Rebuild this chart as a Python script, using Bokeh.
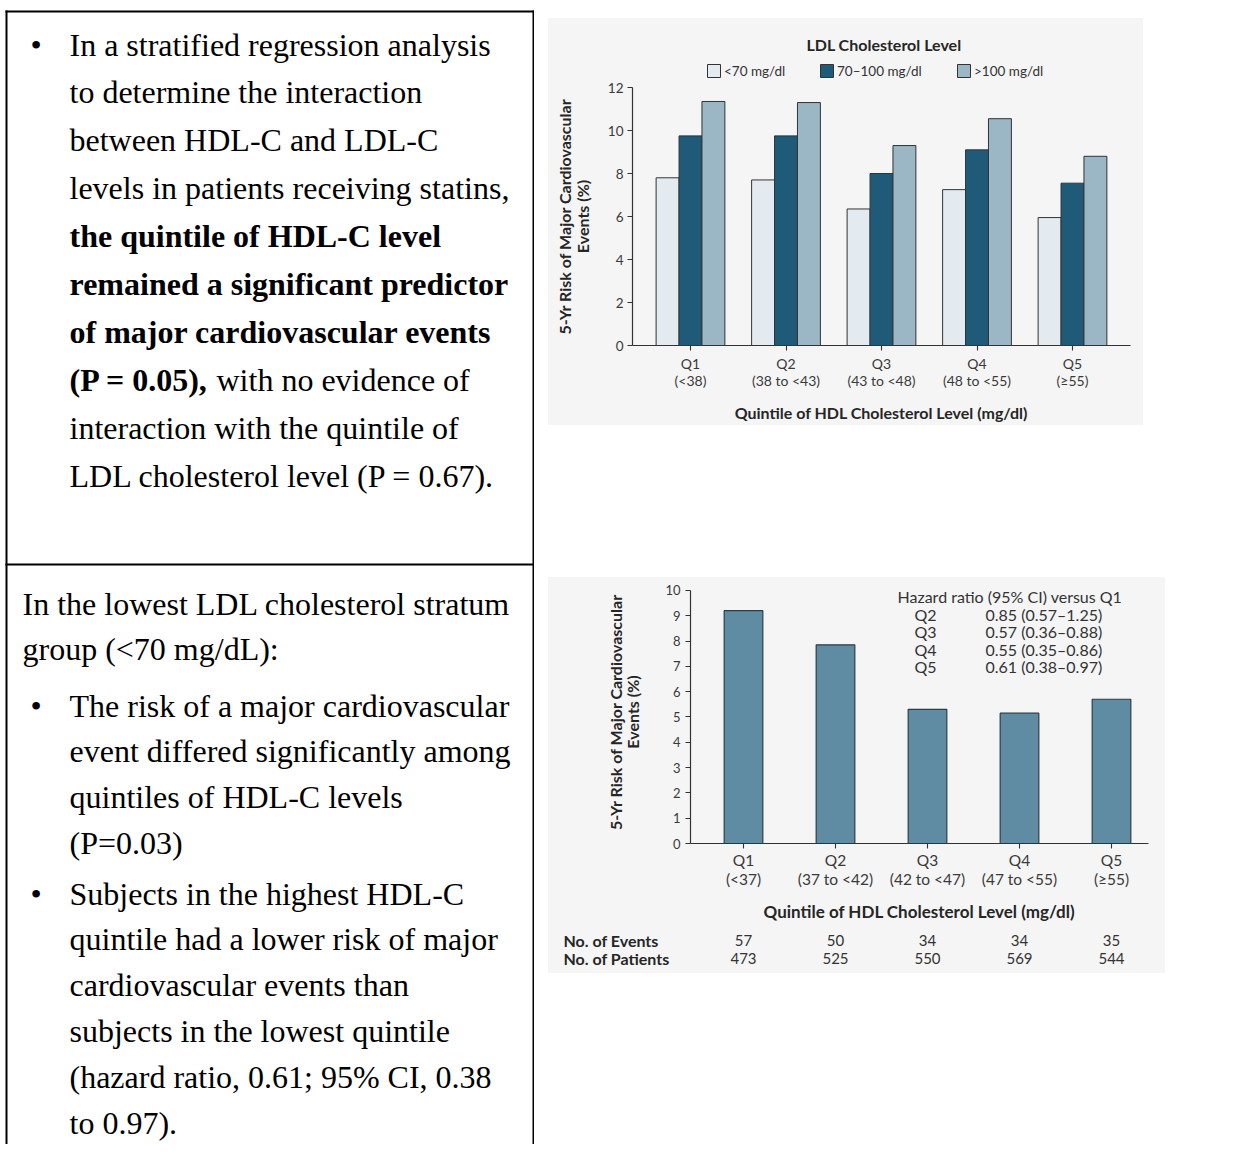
from bokeh.plotting import figure
from bokeh.models import Range1d, FixedTicker, Spacer, ColumnDataSource
from bokeh.layouts import row, column
from bokeh.transform import dodge
from bokeh.embed import file_html
from bokeh.resources import INLINE
from bokeh.core.properties import value

# ---------------- data ----------------
quintiles_a = ["Q1", "Q2", "Q3", "Q4", "Q5"]
hdl_ranges_a = ["(<38)", "(38 to <43)", "(43 to <48)", "(48 to <55)", "(≥55)"]
ldl_levels = ["<70 mg/dl", "70–100 mg/dl", ">100 mg/dl"]
risk_ldl_under70 = [7.8, 7.7, 6.35, 7.25, 5.95]
risk_ldl_70to100 = [9.75, 9.75, 8.0, 9.1, 7.55]
risk_ldl_over100 = [11.35, 11.3, 9.3, 10.55, 8.8]
yticks_a = [0, 2, 4, 6, 8, 10, 12]

quintiles_b = ["Q1", "Q2", "Q3", "Q4", "Q5"]
hdl_ranges_b = ["(<37)", "(37 to <42)", "(42 to <47)", "(47 to <55)", "(≥55)"]
risk_lowest_ldl = [9.2, 7.85, 5.3, 5.15, 5.7]
n_events = [57, 50, 34, 34, 35]
n_patients = [473, 525, 550, 569, 544]
hr_quintiles = ["Q2", "Q3", "Q4", "Q5"]
hr_values = ["0.85 (0.57–1.25)", "0.57 (0.36–0.88)", "0.55 (0.35–0.86)", "0.61 (0.38–0.97)"]
yticks_b = [0, 1, 2, 3, 4, 5, 6, 7, 8, 9, 10]

top_cell_lines = [
    "In a stratified regression analysis",
    "to determine the interaction",
    "between HDL-C and LDL-C",
    "levels in patients receiving statins,",
    "the quintile of HDL-C level",
    "remained a significant predictor",
    "of major cardiovascular events",
    "(P = 0.05),",
    "interaction with the quintile of",
    "LDL cholesterol level (P = 0.67).",
]
top_cell_bold = [False, False, False, False, True, True, True, True, False, False]
top_cell_tail = " with no evidence of"

bottom_intro = ["In the lowest LDL cholesterol stratum", "group (<70 mg/dL):"]
bottom_bullet1 = ["The risk of a major cardiovascular", "event differed significantly among",
                  "quintiles of HDL-C levels", "(P=0.03)"]
bottom_bullet2 = ["Subjects in the highest HDL-C", "quintile had a lower risk of major",
                  "cardiovascular events than", "subjects in the lowest quintile",
                  "(hazard ratio, 0.61; 95% CI, 0.38", "to 0.97)."]

# ---------------- styles ----------------
SERIF = "Liberation Serif"
SANS = "Lato"
PANEL = "#f5f5f5"
INK = "#262626"
GREY = "#3a3a3a"
LINE_STEP = 47.9
TEXT_SIZE = "32px"
TOTAL_H = 1144
LEFT_W = 534
RIGHT_W = 1219 - LEFT_W


def serif_text(fig, xs, ys, texts, bold=False):
    fig.text(x=xs, y=ys, text=texts, text_font=value(SERIF), text_font_size=TEXT_SIZE,
             text_font_style="bold" if bold else "normal", text_baseline="middle",
             text_align="left", text_color="black")


def blank_fig(w, h, xr, yr, bg):
    return figure(width=w, height=h, x_range=xr, y_range=yr, x_axis_type=None, y_axis_type=None,
                  min_border=0, toolbar_location=None, output_backend="svg",
                  outline_line_color=None, background_fill_color=bg, border_fill_color=bg)


# ---------------- left text column ----------------
L = blank_fig(LEFT_W, TOTAL_H, Range1d(0, LEFT_W), Range1d(TOTAL_H, 0), "white")
L.quad(left=[5, 5, 532, 5], right=[LEFT_W, 7, LEFT_W, LEFT_W], top=[10, 10, 10, 563],
       bottom=[12, TOTAL_H, TOTAL_H, 565], fill_color="black", line_color=None)

y0 = 44
ys_top = [y0 + i * LINE_STEP for i in range(len(top_cell_lines))]
for txt, b, yy in zip(top_cell_lines, top_cell_bold, ys_top):
    serif_text(L, [69], [yy], [txt], bold=b)
serif_text(L, [216], [ys_top[top_cell_lines.index("(P = 0.05),")]], [top_cell_tail])
serif_text(L, [30], [ys_top[0]], ["•"])

# bottom cell (slightly compressed so the last line stays inside the page)
step_b = 45.8
y1 = 603
ys_intro = [y1 + i * step_b for i in range(len(bottom_intro))]
serif_text(L, [22] * len(ys_intro), ys_intro, bottom_intro)
y2 = 705
ys_b1 = [y2 + i * step_b for i in range(len(bottom_bullet1))]
serif_text(L, [69] * len(ys_b1), ys_b1, bottom_bullet1)
y3 = 893
ys_b2 = [y3 + i * step_b for i in range(len(bottom_bullet2))]
serif_text(L, [69] * len(ys_b2), ys_b2, bottom_bullet2)
serif_text(L, [30, 30], [y2, y3], ["•", "•"])


def style_axes(fig, label_size):
    for ax in fig.axis:
        ax.axis_line_color = "#333333"
        ax.axis_line_width = 1.2
        ax.major_tick_line_color = "#333333"
        ax.major_tick_line_width = 1.1
        ax.major_tick_out = 5
        ax.major_tick_in = 0
        ax.minor_tick_line_color = None
        ax.major_label_text_font = SANS
        ax.major_label_text_font_size = label_size
        ax.major_label_text_color = GREY
        ax.axis_label_text_font = SANS
        ax.axis_label_text_font_style = "bold"
        ax.axis_label_text_font_size = "16px"
        ax.axis_label_text_color = INK
    fig.xgrid.visible = False
    fig.ygrid.visible = False


# ---------------- chart A ----------------
A_W = 595
H_H = 62                      # heading strip (legend) above chart A
A_H = 407 - H_H
A_L, A_R, A_T, A_B = 84, 13, 7, 80
a_px_cat = 95.5
a_x0 = 1 - 58 / a_px_cat
a_x1 = a_x0 + (A_W - A_L - A_R) / a_px_cat
colors_a = ["#e3ebf0", "#1f5b79", "#9bb6c4"]
bar_line = "#333333"

pA = figure(width=A_W, height=A_H, x_range=Range1d(a_x0, a_x1),
            y_range=Range1d(min(yticks_a), max(yticks_a)),
            min_border_left=A_L, min_border_right=A_R, min_border_top=A_T, min_border_bottom=A_B,
            toolbar_location=None, output_backend="svg", outline_line_color=None,
            background_fill_color=PANEL, border_fill_color=PANEL)
src_a = ColumnDataSource(dict(pos=list(range(1, len(quintiles_a) + 1)), low=risk_ldl_under70,
                              mid=risk_ldl_70to100, high=risk_ldl_over100))
bw = 0.24
for col, off, c in zip(["low", "mid", "high"], [-bw, 0, bw], colors_a):
    pA.vbar(x=dodge("pos", off, range=pA.x_range), top=col, width=bw, source=src_a,
            fill_color=c, line_color=bar_line, line_width=1)
pA.xaxis.ticker = FixedTicker(ticks=list(range(1, len(quintiles_a) + 1)))
pA.xaxis.major_label_overrides = {i + 1: f"{q}\n{r}" for i, (q, r) in enumerate(zip(quintiles_a, hdl_ranges_a))}
pA.yaxis.ticker = FixedTicker(ticks=yticks_a)
pA.xaxis.axis_label = "Quintile of HDL Cholesterol Level (mg/dl)"
pA.yaxis.axis_label = "5-Yr Risk of Major Cardiovascular\nEvents (%)"
style_axes(pA, "14px")
pA.yaxis.major_label_text_font_size = "13.5px"
pA.xaxis.major_label_text_line_height = 1.05
pA.xaxis.major_label_standoff = 4
pA.xaxis.axis_label_standoff = 11
pA.yaxis.major_label_standoff = 4
pA.yaxis.axis_label_standoff = 13
pA.yaxis.axis_label_text_line_height = 0.93

# heading strip: legend title + legend keys (pixel coordinates of the strip)
pH = blank_fig(A_W, H_H, Range1d(0, A_W), Range1d(H_H, 0), PANEL)
pH.text(x=[A_W / 2 + 38], y=[26], text=["LDL Cholesterol Level"], text_font=value(SANS),
        text_font_style="bold", text_font_size="16px", text_align="center",
        text_baseline="middle", text_color=INK)
key_x = [165.5, 278.5, 415.5]
key_y = 52.5
pH.rect(x=key_x, y=[key_y] * len(key_x), width=13, height=13, fill_color=colors_a,
        line_color=bar_line, line_width=1)
pH.text(x=[k + 10 for k in key_x], y=[key_y] * len(key_x), text=ldl_levels,
        text_font=value(SANS), text_font_size="13.5px", text_align="left",
        text_baseline="middle", text_color="#333333")

# ---------------- chart B ----------------
B_W, B_H = 617, 347
B_L, B_R, B_T, B_B = 142, 17, 3, 79
b_px_cat = 92.0
b_x0 = 1 - 53 / b_px_cat
b_x1 = b_x0 + (B_W - B_L - B_R) / b_px_cat
b_px_y = 25.5
b_y1 = (B_H - B_T - B_B) / b_px_y

pB = figure(width=B_W, height=B_H, x_range=Range1d(b_x0, b_x1), y_range=Range1d(0, b_y1),
            min_border_left=B_L, min_border_right=B_R, min_border_top=B_T, min_border_bottom=B_B,
            toolbar_location=None, output_backend="svg", outline_line_color=None,
            background_fill_color=PANEL, border_fill_color=PANEL)
src_b = ColumnDataSource(dict(pos=list(range(1, len(quintiles_b) + 1)), risk=risk_lowest_ldl))
pB.vbar(x="pos", top="risk", width=0.42, source=src_b, fill_color="#5f8ca2",
        line_color="#2c3d48", line_width=1.2)
pB.xaxis.ticker = FixedTicker(ticks=list(range(1, len(quintiles_b) + 1)))
pB.xaxis.major_label_overrides = {i + 1: f"{q}\n{r}" for i, (q, r) in enumerate(zip(quintiles_b, hdl_ranges_b))}
pB.yaxis.ticker = FixedTicker(ticks=yticks_b)
pB.yaxis.bounds = (min(yticks_b), max(yticks_b))
pB.xaxis.axis_label = "Quintile of HDL Cholesterol Level (mg/dl)"
pB.yaxis.axis_label = "5-Yr Risk of Major Cardiovascular\nEvents (%)"
style_axes(pB, "15.5px")
pB.xaxis.axis_label_text_font_size = "17px"
pB.yaxis.major_label_text_font_size = "13px"
pB.xaxis.major_label_text_line_height = 1.08
pB.xaxis.major_label_standoff = 2
pB.xaxis.axis_label_standoff = 10
pB.yaxis.major_label_standoff = 5
pB.yaxis.axis_label_standoff = 20
pB.yaxis.axis_label_text_line_height = 0.93

hr_x_title = 2.674
hr_x_q = 2.978
hr_x_val = 3.63
hr_y_title = 9.765
hr_step = 0.693
pB.text(x=[hr_x_title], y=[hr_y_title], text=["Hazard ratio (95% CI) versus Q1"],
        text_font=value(SANS), text_font_size="16px", text_baseline="middle",
        text_align="left", text_color="#333333")
hr_ys = [hr_y_title - 0.705 - i * hr_step for i in range(len(hr_quintiles))]
pB.text(x=[hr_x_q] * len(hr_quintiles), y=hr_ys, text=hr_quintiles, text_font=value(SANS),
        text_font_size="16px", text_baseline="middle", text_align="center", text_color="#333333")
pB.text(x=[hr_x_val] * len(hr_values), y=hr_ys, text=hr_values, text_font=value(SANS),
        text_font_size="16px", text_baseline="middle", text_align="left", text_color="#333333")

# table below chart B (same horizontal scale as chart B)
T_H = 49
tab_x0 = b_x0 - B_L / b_px_cat
tab_x1 = b_x1 + B_R / b_px_cat
pT = blank_fig(B_W, T_H, Range1d(tab_x0, tab_x1), Range1d(T_H, 0), PANEL)
row_y = [16, 34]
pT.text(x=[tab_x0 + 15 / b_px_cat] * 2, y=row_y, text=["No. of Events", "No. of Patients"],
        text_font=value(SANS), text_font_style="bold", text_font_size="16px",
        text_baseline="middle", text_align="left", text_color=INK)
pos_b = list(range(1, len(quintiles_b) + 1))
pT.text(x=pos_b, y=[row_y[0]] * len(pos_b), text=[str(v) for v in n_events],
        text_font=value(SANS), text_font_size="15px", text_baseline="middle",
        text_align="center", text_color="#333333")
pT.text(x=pos_b, y=[row_y[1]] * len(pos_b), text=[str(v) for v in n_patients],
        text_font=value(SANS), text_font_size="15px", text_baseline="middle",
        text_align="center", text_color="#333333")


def hline(width):
    s = blank_fig(width, 2, Range1d(0, 1), Range1d(0, 1), "black")
    s.quad(left=[0], right=[1], top=[1], bottom=[0], fill_color="black", line_color=None)
    return s


panel_css = {"background-color": PANEL}
chartA_block = column(row(pH), row(pA), styles=panel_css)
chartB_block = column(row(pB), row(pT), styles=panel_css)

right_col = column(
    Spacer(width=RIGHT_W, height=10),
    hline(RIGHT_W),
    Spacer(width=RIGHT_W, height=6),
    row(Spacer(width=14, height=407), chartA_block),
    Spacer(width=RIGHT_W, height=138),
    hline(RIGHT_W),
    Spacer(width=RIGHT_W, height=12),
    row(Spacer(width=14, height=B_H + T_H), chartB_block),
    Spacer(width=RIGHT_W, height=TOTAL_H - 973),
)
layout = row(L, right_col)

open("out.html", "w").write(file_html(layout, INLINE))
